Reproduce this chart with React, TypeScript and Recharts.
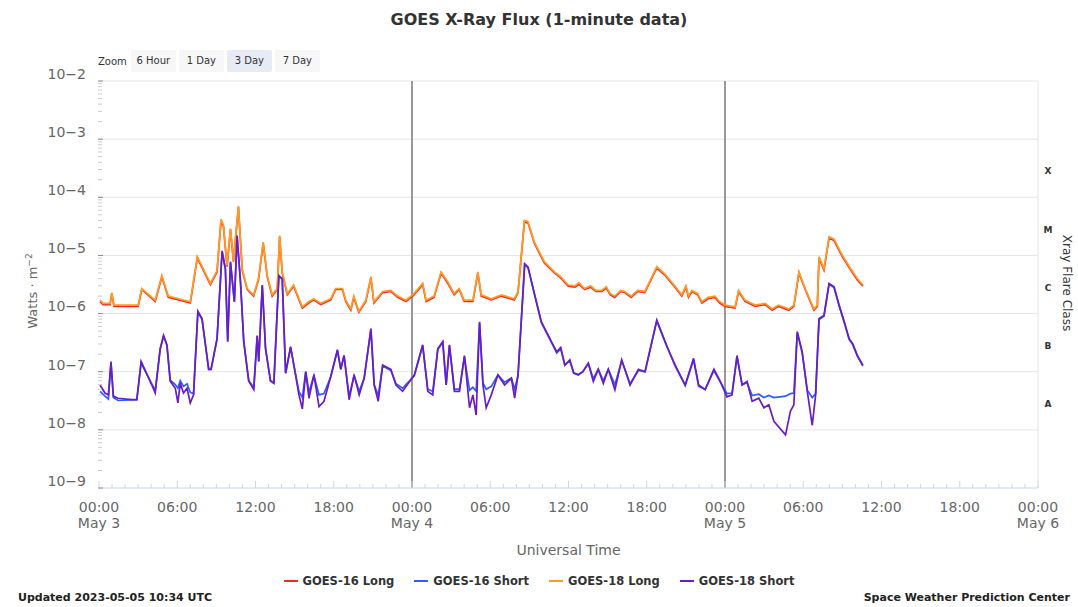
import { LineChart, Line, XAxis, YAxis, ReferenceLine } from "recharts"

const W = 1078
const H = 607
// plot box (px)
const PL = 99
const PR = 1038
const PT = 81
const PB = 488

const FONT = "'DejaVu Sans', sans-serif"

// hours since 2023-05-03 00:00 UTC, flux in W/m^2
const G16_LONG: [number, number][] = [
  [0.08, 1.6e-6], [0.31, 1.43e-6], [0.85, 1.43e-6], [0.98, 2.2e-6], [1.15, 1.33e-6], [3.0, 1.33e-6],
  [3.28, 2.6e-6], [4.31, 1.62e-6], [4.82, 4.3e-6], [5.31, 1.9e-6], [7.0, 1.52e-6], [7.54, 9.1e-6],
  [8.54, 3.15e-6], [9.05, 5.2e-6], [9.36, 4.0e-5], [9.54, 3.15e-5], [9.82, 6.4e-6], [10.08, 2.8e-5],
  [10.31, 7.8e-6], [10.69, 6.8e-5], [10.98, 5.6e-6], [11.36, 2.6e-6], [11.85, 2.0e-6], [12.23, 3.8e-6],
  [12.59, 1.62e-5], [12.9, 4.3e-6], [13.28, 2.0e-6], [13.67, 2.6e-6], [13.85, 2.1e-5], [14.05, 5.0e-6],
  [14.44, 2.1e-6], [14.92, 2.95e-6], [15.59, 1.24e-6], [16.08, 1.52e-6], [16.46, 1.72e-6], [17.0, 1.43e-6],
  [17.77, 1.72e-6], [18.15, 2.6e-6], [18.67, 2.6e-6], [18.92, 1.62e-6], [19.31, 1.14e-6], [19.54, 1.9e-6],
  [19.92, 1.05e-6], [20.46, 1.62e-6], [20.85, 4.1e-6], [21.08, 1.52e-6], [21.75, 2.3e-6], [22.38, 2.4e-6],
  [22.9, 1.9e-6], [23.54, 1.62e-6], [24.15, 2.1e-6], [24.82, 3.15e-6], [25.08, 1.62e-6], [25.69, 1.9e-6],
  [26.23, 5.0e-6], [26.75, 3.3e-6], [27.23, 2.1e-6], [27.62, 2.6e-6], [28.0, 1.62e-6], [28.67, 1.62e-6],
  [29.05, 5.0e-6], [29.31, 2.0e-6], [30.08, 1.72e-6], [30.85, 2.0e-6], [31.85, 1.72e-6], [32.13, 2.3e-6],
  [32.62, 3.8e-5], [32.9, 3.6e-5], [33.38, 1.62e-5], [34.15, 7.4e-6], [34.92, 5.0e-6], [35.4, 4.1e-6],
  [35.98, 2.95e-6], [36.5, 2.85e-6], [36.8, 3.2e-6], [37.23, 2.6e-6], [37.7, 2.85e-6], [38.1, 2.4e-6],
  [38.54, 2.4e-6], [38.9, 2.75e-6], [39.2, 2.1e-6], [39.54, 1.9e-6], [40.0, 2.4e-6], [40.31, 2.3e-6],
  [40.8, 1.9e-6], [41.3, 2.4e-6], [41.85, 2.3e-6], [42.77, 6.1e-6], [43.38, 4.6e-6], [44.0, 3.15e-6],
  [44.69, 2.0e-6], [45.0, 2.85e-6], [45.2, 1.9e-6], [45.46, 2.4e-6], [45.9, 2.1e-6], [46.23, 1.52e-6],
  [46.7, 1.8e-6], [47.23, 1.9e-6], [47.6, 1.52e-6], [48.0, 1.33e-6], [48.77, 1.24e-6], [49.04, 2.4e-6],
  [49.54, 1.62e-6], [50.31, 1.33e-6], [51.08, 1.43e-6], [51.62, 1.14e-6], [52.1, 1.33e-6], [52.9, 1.14e-6],
  [53.28, 1.33e-6], [53.67, 5.0e-6], [54.15, 2.6e-6], [54.82, 1.14e-6], [55.08, 1.33e-6], [55.21, 9.1e-6],
  [55.59, 5.6e-6], [55.98, 2.0e-5], [56.36, 1.8e-5], [57.0, 9.5e-6], [57.64, 5.6e-6], [58.15, 3.8e-6],
  [58.57, 2.95e-6],
]

const G16_SHORT: [number, number][] = [
  [0.08, 4.6e-8], [0.46, 3.8e-8], [0.72, 3.4e-8], [0.92, 1.4e-7], [1.1, 3.6e-8], [1.46, 3.2e-8],
  [2.9, 3.3e-8], [3.23, 1.4e-7], [4.05, 6.2e-8], [4.31, 4.8e-8], [4.69, 2.4e-7], [4.95, 4.1e-7],
  [5.21, 2.8e-7], [5.46, 7.2e-8], [5.85, 6e-8], [6.05, 5.2e-8], [6.23, 7e-8], [6.48, 5.6e-8],
  [6.75, 6.2e-8], [7.0, 4.4e-8], [7.25, 4.2e-8], [7.58, 1.05e-6], [7.9, 8e-7], [8.41, 1.1e-7],
  [8.59, 1.1e-7], [9.05, 3.6e-7], [9.44, 1.15e-5], [9.69, 5.8e-6], [9.87, 3.3e-7], [10.08, 7.5e-6],
  [10.38, 1.6e-6], [10.59, 2.1e-5], [10.85, 3.4e-6], [11.1, 3.3e-7], [11.48, 7e-8], [11.87, 5.4e-8],
  [12.13, 4.1e-7], [12.25, 1.5e-7], [12.52, 3e-6], [12.77, 2.5e-7], [13.15, 7e-8], [13.41, 6.6e-8],
  [13.79, 4.4e-6], [14.05, 3.9e-6], [14.31, 9.5e-8], [14.69, 2.6e-7], [15, 1.1e-7], [15.33, 4.6e-8],
  [15.59, 3.6e-8], [15.85, 1e-7], [16.1, 4.4e-8], [16.48, 8.6e-8], [16.87, 4.0e-8], [17.25, 4.2e-8],
  [17.77, 8.2e-8], [18.28, 2.3e-7], [18.54, 1.1e-7], [18.79, 1.9e-7], [19.18, 3.8e-8], [19.56, 8.6e-8],
  [19.95, 4.6e-8], [20.33, 7.6e-8], [20.85, 5.3e-7], [21.1, 6e-8], [21.41, 3.9e-8], [21.75, 1.25e-7],
  [22.38, 1.05e-7], [22.77, 6.2e-8], [23.28, 5.2e-8], [24.18, 8.6e-8], [24.82, 2.8e-7], [25.21, 5e-8],
  [25.59, 4.6e-8], [25.98, 2.4e-7], [26.36, 3.2e-7], [26.62, 6e-8], [26.87, 2.8e-7], [27.25, 5e-8],
  [27.64, 5e-8], [28.02, 1.8e-7], [28.41, 4.8e-8], [28.67, 5.4e-8], [28.92, 4.6e-8], [29.18, 6.9e-7],
  [29.44, 6.4e-8], [29.69, 5e-8], [30.08, 5.6e-8], [30.59, 8.8e-8], [31.1, 6.6e-8], [31.62, 7.8e-8],
  [31.87, 5e-8], [32.13, 8.6e-8], [32.64, 7e-6], [32.9, 6.1e-6], [33.41, 2.05e-6], [33.92, 7e-7],
  [34.69, 3.2e-7], [35.1, 2.1e-7], [35.4, 2.5e-7], [35.72, 1.3e-7], [36.1, 1.55e-7], [36.4, 9.5e-8],
  [36.75, 9e-8], [37.1, 1.0e-7], [37.52, 1.4e-7], [37.9, 7.6e-8], [38.28, 1.1e-7], [38.67, 7e-8],
  [39.05, 1.1e-7], [39.56, 6e-8], [40.08, 1.55e-7], [40.72, 6.2e-8], [41.36, 1.05e-7], [41.87, 1e-7],
  [42.77, 7.5e-7], [43.41, 3.2e-7], [43.8, 2.0e-7], [44.18, 1.25e-7], [44.95, 5.8e-8], [45.59, 1.6e-7],
  [45.98, 5.6e-8], [46.48, 5e-8], [47.15, 1.05e-7], [47.64, 6.6e-8], [48.15, 4.2e-8], [48.54, 4.3e-8],
  [48.92, 1.8e-7], [49.31, 6e-8], [49.69, 6.5e-8], [50.08, 3.9e-8], [50.59, 4.1e-8], [50.98, 3.6e-8],
  [51.36, 3.9e-8], [51.75, 3.6e-8], [52.64, 3.8e-8], [53.02, 4.2e-8], [53.28, 4.3e-8], [53.54, 4.7e-7],
  [53.92, 2.1e-7], [54.31, 4.8e-8], [54.69, 3.6e-8], [54.95, 4.2e-8], [55.21, 7.9e-7], [55.59, 9e-7],
  [55.98, 3.2e-6], [56.36, 2.8e-6], [56.75, 1.35e-6], [57.1, 7.5e-7], [57.52, 3.6e-7], [57.8, 2.9e-7],
  [58.15, 1.85e-7], [58.57, 1.25e-7],
]

const G18_LONG: [number, number][] = [
  [0.08, 1.7e-6], [0.31, 1.5e-6], [0.85, 1.5e-6], [0.98, 2.3e-6], [1.15, 1.4e-6], [3.0, 1.4e-6],
  [3.28, 2.7e-6], [4.31, 1.7e-6], [4.82, 4.5e-6], [5.31, 2.0e-6], [7.0, 1.6e-6], [7.54, 9.5e-6],
  [8.54, 3.3e-6], [9.05, 5.5e-6], [9.36, 4.2e-5], [9.54, 3.3e-5], [9.82, 6.7e-6], [10.08, 2.9e-5],
  [10.31, 8.2e-6], [10.69, 7.1e-5], [10.98, 5.9e-6], [11.36, 2.7e-6], [11.85, 2.1e-6], [12.23, 4.0e-6],
  [12.59, 1.7e-5], [12.9, 4.5e-6], [13.28, 2.1e-6], [13.67, 2.7e-6], [13.85, 2.2e-5], [14.05, 5.2e-6],
  [14.44, 2.2e-6], [14.92, 3.1e-6], [15.59, 1.3e-6], [16.08, 1.6e-6], [16.46, 1.8e-6], [17.0, 1.5e-6],
  [17.77, 1.8e-6], [18.15, 2.7e-6], [18.67, 2.7e-6], [18.92, 1.7e-6], [19.31, 1.2e-6], [19.54, 2.0e-6],
  [19.92, 1.1e-6], [20.46, 1.7e-6], [20.85, 4.3e-6], [21.08, 1.6e-6], [21.75, 2.4e-6], [22.38, 2.5e-6],
  [22.9, 2.0e-6], [23.54, 1.7e-6], [24.15, 2.2e-6], [24.82, 3.3e-6], [25.08, 1.7e-6], [25.69, 2.0e-6],
  [26.23, 5.2e-6], [26.75, 3.5e-6], [27.23, 2.2e-6], [27.62, 2.7e-6], [28.0, 1.7e-6], [28.67, 1.7e-6],
  [29.05, 5.2e-6], [29.31, 2.1e-6], [30.08, 1.8e-6], [30.85, 2.1e-6], [31.85, 1.8e-6], [32.13, 2.4e-6],
  [32.62, 4.0e-5], [32.9, 3.8e-5], [33.38, 1.7e-5], [34.15, 7.8e-6], [34.92, 5.2e-6], [35.4, 4.3e-6],
  [35.98, 3.1e-6], [36.5, 3.0e-6], [36.8, 3.4e-6], [37.23, 2.7e-6], [37.7, 3.0e-6], [38.1, 2.5e-6],
  [38.54, 2.5e-6], [38.9, 2.9e-6], [39.2, 2.2e-6], [39.54, 2.0e-6], [40.0, 2.5e-6], [40.31, 2.4e-6],
  [40.8, 2.0e-6], [41.3, 2.5e-6], [41.85, 2.4e-6], [42.77, 6.4e-6], [43.38, 4.8e-6], [44.0, 3.3e-6],
  [44.69, 2.1e-6], [45.0, 3.0e-6], [45.2, 2.0e-6], [45.46, 2.5e-6], [45.9, 2.2e-6], [46.23, 1.6e-6],
  [46.7, 1.9e-6], [47.23, 2.0e-6], [47.6, 1.6e-6], [48.0, 1.4e-6], [48.77, 1.3e-6], [49.04, 2.5e-6],
  [49.54, 1.7e-6], [50.31, 1.4e-6], [51.08, 1.5e-6], [51.62, 1.2e-6], [52.1, 1.4e-6], [52.9, 1.2e-6],
  [53.28, 1.4e-6], [53.67, 5.2e-6], [54.15, 2.7e-6], [54.82, 1.2e-6], [55.08, 1.4e-6], [55.21, 9.5e-6],
  [55.59, 5.9e-6], [55.98, 2.1e-5], [56.36, 1.9e-5], [57.0, 1.0e-5], [57.64, 5.9e-6], [58.15, 4.0e-6],
  [58.57, 3.1e-6],
]

const G18_SHORT: [number, number][] = [
  [0.08, 5.9e-8], [0.46, 4.3e-8], [0.72, 4.0e-8], [0.92, 1.5e-7], [1.1, 3.8e-8], [1.46, 3.5e-8],
  [2.52, 3.3e-8], [2.9, 3.3e-8], [3.23, 1.5e-7], [4.05, 5.9e-8], [4.31, 4.3e-8], [4.69, 2.5e-7],
  [4.95, 4.2e-7], [5.21, 2.9e-7], [5.46, 6.9e-8], [5.85, 5.2e-8], [6.05, 2.9e-8], [6.23, 6.3e-8],
  [6.48, 4.3e-8], [6.75, 5.2e-8], [7.0, 2.9e-8], [7.25, 4.0e-8], [7.58, 1.1e-6], [7.9, 8.2e-7],
  [8.41, 1.1e-7], [8.59, 1.1e-7], [9.05, 3.7e-7], [9.44, 1.2e-5], [9.69, 5.9e-6], [9.87, 3.3e-7],
  [10.08, 7.8e-6], [10.38, 1.6e-6], [10.59, 2.2e-5], [10.85, 3.5e-6], [11.1, 3.3e-7], [11.48, 6.9e-8],
  [11.87, 4.9e-8], [12.13, 4.2e-7], [12.25, 1.5e-7], [12.52, 3.1e-6], [12.77, 2.5e-7], [13.15, 6.9e-8],
  [13.41, 6.3e-8], [13.79, 4.5e-6], [14.05, 4.0e-6], [14.31, 9.4e-8], [14.69, 2.7e-7], [15.0, 1.1e-7],
  [15.33, 4.0e-8], [15.59, 2.3e-8], [15.85, 1.0e-7], [16.1, 3.5e-8], [16.48, 8.8e-8], [16.87, 2.5e-8],
  [17.25, 3.1e-8], [17.77, 8.3e-8], [18.28, 2.4e-7], [18.54, 1.1e-7], [18.79, 1.9e-7], [19.18, 3.3e-8],
  [19.56, 8.8e-8], [19.95, 4.0e-8], [20.33, 7.7e-8], [20.85, 5.5e-7], [21.1, 5.9e-8], [21.41, 3.1e-8],
  [21.75, 1.3e-7], [22.38, 1.1e-7], [22.77, 5.9e-8], [23.28, 4.6e-8], [24.18, 8.8e-8], [24.82, 2.9e-7],
  [25.21, 4.6e-8], [25.59, 4.0e-8], [25.98, 2.5e-7], [26.36, 3.3e-7], [26.62, 5.9e-8], [26.87, 2.9e-7],
  [27.25, 4.6e-8], [27.64, 4.6e-8], [28.02, 1.9e-7], [28.41, 2.4e-8], [28.67, 4.0e-8], [28.92, 1.8e-8],
  [29.18, 7.2e-7], [29.44, 5.9e-8], [29.69, 2.4e-8], [30.08, 4.0e-8], [30.59, 8.8e-8], [31.1, 5.9e-8],
  [31.62, 7.7e-8], [31.87, 3.5e-8], [32.13, 8.8e-8], [32.64, 7.2e-6], [32.9, 6.3e-6], [33.41, 2.1e-6],
  [33.92, 7.2e-7], [34.69, 3.3e-7], [35.1, 2.2e-7], [35.4, 2.6e-7], [35.72, 1.3e-7], [36.1, 1.6e-7],
  [36.4, 9.5e-8], [36.75, 8.8e-8], [37.1, 1.0e-7], [37.52, 1.4e-7], [37.9, 6.8e-8], [38.28, 1.1e-7],
  [38.67, 6.3e-8], [39.05, 1.1e-7], [39.56, 4.9e-8], [40.08, 1.6e-7], [40.72, 5.9e-8], [41.36, 1.1e-7],
  [41.87, 1.0e-7], [42.77, 7.7e-7], [43.41, 3.3e-7], [43.8, 2.0e-7], [44.18, 1.3e-7], [44.95, 5.9e-8],
  [45.59, 1.7e-7], [45.98, 5.9e-8], [46.48, 4.9e-8], [47.15, 1.1e-7], [47.64, 6.8e-8], [48.15, 3.7e-8],
  [48.54, 4.0e-8], [48.92, 1.9e-7], [49.31, 5.9e-8], [49.69, 6.8e-8], [50.08, 3.1e-8], [50.59, 3.5e-8],
  [50.98, 2.4e-8], [51.36, 2.7e-8], [51.75, 1.4e-8], [52.64, 8.2e-9], [53.02, 2.1e-8], [53.28, 2.7e-8],
  [53.54, 4.9e-7], [53.92, 2.2e-7], [54.31, 4.6e-8], [54.69, 1.2e-8], [54.95, 4.0e-8], [55.21, 8.2e-7],
  [55.59, 9.3e-7], [55.98, 3.3e-6], [56.36, 2.9e-6], [56.75, 1.4e-6], [57.1, 7.8e-7], [57.52, 3.7e-7],
  [57.8, 3.0e-7], [58.15, 1.9e-7], [58.57, 1.3e-7],
]

const TIME_LABELS = ["00:00", "06:00", "12:00", "18:00"]
const DAY_LABELS = ["May 3", "May 4", "May 5", "May 6"]
const DAY_LINES = [24, 48]
const DECADES = [-9, -8, -7, -6, -5, -4, -3, -2]
const CLASS_LABELS = ["A", "B", "C", "M", "X"]
const ZOOM_BUTTONS = ["6 Hour", "1 Day", "3 Day", "7 Day"]

const SERIES = [
  { name: "GOES-16 Long", color: "#ff2424", data: G16_LONG },
  { name: "GOES-16 Short", color: "#2f5cff", data: G16_SHORT },
  { name: "GOES-18 Long", color: "#ff9b22", data: G18_LONG },
  { name: "GOES-18 Short", color: "#6a1cc6", data: G18_SHORT },
]

const toRows = (pts: [number, number][]) => pts.map(([t, v]) => ({ t, v }))

const HOUR_TICKS = Array.from({ length: 73 }, (_, i) => i)
const Y_TICKS = DECADES.flatMap((e) =>
  e === -2 ? [1e-2] : [1, 2, 3, 4, 5, 6, 7, 8, 9].map((m) => m * Math.pow(10, e))
)
const CLASS_TICKS = CLASS_LABELS.map((_, i) => Math.pow(10, -7.5 + i))

function LeftTick(props: any) {
  const { y, payload } = props
  const v = payload.value
  const e = Math.round(Math.log10(v))
  const major = Math.abs(v / Math.pow(10, e) - 1) < 1e-6
  return (
    <g>
      <line x1={PL - 1} x2={PL + (major ? 4 : 3)} y1={y} y2={y} stroke={major ? "#888" : "#ccc"} />
      {major && (
        <text x={86} y={y - 7} dy="0.35em" textAnchor="end" fill="#666" fontSize={14} fontFamily={FONT}>
          {`10\u2212${-e}`}
        </text>
      )}
    </g>
  )
}

function TimeTick(props: any) {
  const { x, payload } = props
  const h = payload.value
  const major = h % 6 === 0
  return (
    <g>
      <line x1={x} x2={x} y1={PB} y2={PB - (major ? 7 : 4)} stroke="#ccd6eb" />
      {major && (
        <text x={x} y={507} dy="0.35em" textAnchor="middle" fill="#666" fontSize={14} fontFamily={FONT}>
          {TIME_LABELS[(h / 6) % 4]}
        </text>
      )}
      {h % 24 === 0 && (
        <text x={x} y={523} dy="0.35em" textAnchor="middle" fill="#666" fontSize={14} fontFamily={FONT}>
          {DAY_LABELS[h / 24]}
        </text>
      )}
    </g>
  )
}

function TopTick(props: any) {
  const { x, payload } = props
  const major = payload.value % 6 === 0
  return <line x1={x} x2={x} y1={PT} y2={PT + (major ? 6 : 3)} stroke="#ccd6eb" />
}

function ClassTick(props: any) {
  const { y, index } = props
  return (
    <text x={1048} y={y + 3} dy="0.35em" textAnchor="middle" fill="#333" fontSize={9} fontWeight="bold" fontFamily={FONT}>
      {CLASS_LABELS[index]}
    </text>
  )
}

export default function App() {
  return (
    <div style={{ position: "absolute", left: 0, top: 0, width: W, height: H, background: "#fff", fontFamily: FONT }}>
      <LineChart width={W} height={H} margin={{ top: PT, right: 0, bottom: 0, left: 0 }}>
        <XAxis
          xAxisId="bottom"
          dataKey="t"
          type="number"
          domain={[0, 72]}
          ticks={HOUR_TICKS}
          interval={0}
          height={H - PB}
          axisLine={{ stroke: "#ccd6eb" }}
          tickLine={false}
          tick={<TimeTick />}
          allowDataOverflow
        />
        <XAxis
          xAxisId="top"
          orientation="top"
          dataKey="t"
          type="number"
          domain={[0, 72]}
          ticks={HOUR_TICKS}
          interval={0}
          height={0}
          axisLine={false}
          tickLine={false}
          tick={<TopTick />}
          allowDataOverflow
        />
        <YAxis
          yAxisId="left"
          type="number"
          scale="log"
          domain={[1e-9, 1e-2]}
          ticks={Y_TICKS}
          interval={0}
          width={PL}
          axisLine={false}
          tickLine={false}
          tick={<LeftTick />}
          allowDataOverflow
        />
        <YAxis
          yAxisId="right"
          orientation="right"
          type="number"
          scale="log"
          domain={[1e-9, 1e-2]}
          ticks={CLASS_TICKS}
          interval={0}
          width={W - PR}
          axisLine={{ stroke: "#e6e6e6" }}
          tickLine={false}
          tick={<ClassTick />}
          allowDataOverflow
        />
        {DECADES.slice(1).map((e) => (
          <ReferenceLine key={e} xAxisId="bottom" yAxisId="left" y={Math.pow(10, e)} stroke="#e6e6e6" strokeWidth={1} />
        ))}
        {DAY_LINES.map((h) => (
          <ReferenceLine key={h} xAxisId="bottom" yAxisId="left" x={h} stroke="#999" strokeWidth={2} />
        ))}
        {SERIES.map((s) => (
          <Line
            key={s.name}
            xAxisId="bottom"
            yAxisId="left"
            data={toRows(s.data)}
            dataKey="v"
            type="linear"
            stroke={s.color}
            strokeWidth={1.7}
            dot={false}
            isAnimationActive={false}
          />
        ))}
      </LineChart>

      <div style={{ position: "absolute", left: 0, top: 10, width: W, textAlign: "center", fontSize: 16, fontWeight: "bold", color: "#333" }}>
        GOES X-Ray Flux (1-minute data)
      </div>

      <div style={{ position: "absolute", left: 98, top: 50, height: 22, display: "flex", alignItems: "center", fontSize: 10, color: "#333" }}>
        <span style={{ marginRight: 4 }}>Zoom</span>
        {ZOOM_BUTTONS.map((b) => (
          <span
            key={b}
            style={{
              display: "inline-block",
              width: 45,
              height: 22,
              lineHeight: "22px",
              textAlign: "center",
              marginRight: 3,
              borderRadius: 2,
              background: b === "3 Day" ? "#e6ebf5" : "#f7f7f7",
            }}
          >
            {b}
          </span>
        ))}
      </div>

      <div style={{ position: "absolute", left: 32, top: 291, transform: "translate(-50%, -50%) rotate(-90deg)", whiteSpace: "nowrap", fontSize: 13, color: "#666" }}>
        Watts · m<span style={{ fontSize: 9, verticalAlign: "super" }}>−2</span>
      </div>

      <div style={{ position: "absolute", left: 1067, top: 283, transform: "translate(-50%, -50%) rotate(90deg)", whiteSpace: "nowrap", fontSize: 12, color: "#333" }}>
        Xray Flare Class
      </div>

      <div style={{ position: "absolute", left: (PL + PR) / 2, top: 550, transform: "translate(-50%, -50%)", whiteSpace: "nowrap", fontSize: 14, color: "#666" }}>
        Universal Time
      </div>

      <div style={{ position: "absolute", left: 0, top: 574, width: W, display: "flex", justifyContent: "center", fontSize: 11.5, fontWeight: "bold", color: "#333" }}>
        {SERIES.map((s) => (
          <span key={s.name} style={{ display: "inline-flex", alignItems: "center", margin: "0 10px" }}>
            <span style={{ display: "inline-block", width: 14, height: 2, background: s.color, marginRight: 5 }} />
            {s.name}
          </span>
        ))}
      </div>

      <div style={{ position: "absolute", left: 18, top: 591, fontSize: 11, fontWeight: "bold", color: "#222" }}>
        Updated 2023-05-05 10:34 UTC
      </div>
      <div style={{ position: "absolute", right: 8, top: 591, fontSize: 11, fontWeight: "bold", color: "#222" }}>
        Space Weather Prediction Center
      </div>
    </div>
  )
}
